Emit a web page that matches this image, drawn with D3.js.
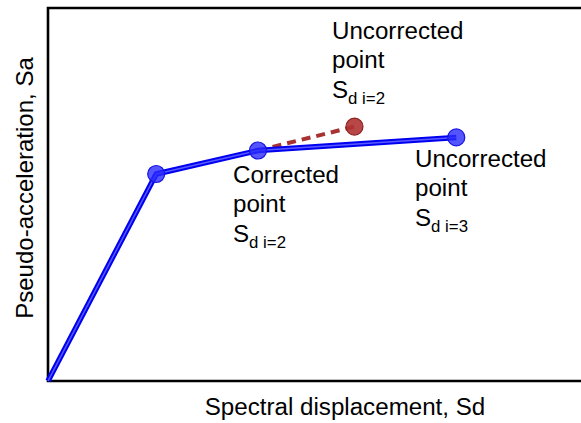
<!DOCTYPE html>
<html>
<head>
<meta charset="utf-8">
<script src="https://cdn.jsdelivr.net/npm/d3@7"></script>
<style>
  body { margin: 0; background: #fff; }
  text { font-family: "Liberation Sans", Arial, sans-serif; fill: #000; }
</style>
</head>
<body>
<div class="graph"></div>
<script>
const w = 581;
const h = 423;
const margin = {top: 8, right: 0, bottom: 42, left: 48};

// capacity curve (Sd, Sa), arbitrary units
const curveSd = [0, 2.03, 3.94, 7.66];
const curveSa = [0, 5.55, 6.18, 6.53];
// uncorrected trial point
const trialSd = [3.94, 5.75];
const trialSa = [6.18, 6.82];

const xTitle = "Spectral displacement, Sd";
const yTitle = "Pseudo-acceleration, Sa";
const noteLines = [
  {lines: ["Uncorrected", "point"], sub: "d i=2", x: 332, y: 39},
  {lines: ["Corrected", "point"], sub: "d i=2", x: 233, y: 183},
  {lines: ["Uncorrected", "point"], sub: "d i=3", x: 415, y: 167}
];

const canvas = d3.select(".graph")
  .append("svg")
  .attr("width", w)
  .attr("height", h);

const xScale = d3.scaleLinear()
  .domain([0, 10])
  .range([margin.left, w - margin.right]);
const yScale = d3.scaleLinear()
  .domain([0, 10])
  .range([h - margin.bottom, margin.top]);

// frame
canvas.append("path")
  .attr("d", `M${w + 5},${margin.top} H${margin.left} V${h - margin.bottom} H${w + 5}`)
  .attr("fill", "none")
  .attr("stroke", "#000")
  .attr("stroke-width", 2.6);

const curve = curveSd.map((d, i) => [d, curveSa[i]]);
const trial = trialSd.map((d, i) => [d, trialSa[i]]);
const line = d3.line().x(d => xScale(d[0])).y(d => yScale(d[1]));

// red dashed trial segment
canvas.append("path")
  .attr("d", line(trial))
  .attr("fill", "none")
  .attr("stroke", "#a83232")
  .attr("stroke-width", 4)
  .attr("stroke-dasharray", "9,6");

// blue capacity curve (double-edged look)
canvas.append("path")
  .attr("d", line(curve))
  .attr("fill", "none")
  .attr("stroke", "#0000f0")
  .attr("stroke-width", 5.5)
  .attr("stroke-linejoin", "round");
canvas.append("path")
  .attr("d", line(curve))
  .attr("fill", "none")
  .attr("stroke", "#5a5aff")
  .attr("stroke-width", 1.5)
  .attr("stroke-linejoin", "round");

// markers
canvas.selectAll("circle.pt")
  .data(curve.slice(1))
  .enter().append("circle")
  .attr("class", "pt")
  .attr("cx", d => xScale(d[0]))
  .attr("cy", d => yScale(d[1]))
  .attr("r", 8.5)
  .attr("fill", "#2a2aff")
  .attr("fill-opacity", 0.8)
  .attr("stroke", "#1515e0")
  .attr("stroke-width", 1.2);

canvas.append("circle")
  .attr("cx", xScale(trial[1][0]))
  .attr("cy", yScale(trial[1][1]))
  .attr("r", 8.5)
  .attr("fill", "#b03333")
  .attr("fill-opacity", 0.9)
  .attr("stroke", "#8f1f1f")
  .attr("stroke-width", 1.2);

// annotations
const lineGap = 29.3;
noteLines.forEach(n => {
  const g = canvas.append("g")
    .attr("transform", `translate(${n.x},${n.y}) scale(1.05,1)`);
  n.lines.forEach((t, i) => {
    g.append("text")
      .attr("x", 0)
      .attr("y", i * lineGap)
      .attr("font-size", 23)
      .text(t);
  });
  const s = g.append("text")
    .attr("x", 0)
    .attr("y", n.lines.length * lineGap)
    .attr("font-size", 23);
  s.append("tspan").text("S");
  s.append("tspan")
    .attr("font-size", 16)
    .attr("dy", 6)
    .text(n.sub);
});

// axis titles
canvas.append("text")
  .attr("transform", "translate(345,415) scale(1.05,1)")
  .attr("text-anchor", "middle")
  .attr("font-size", 23)
  .text(xTitle);

canvas.append("text")
  .attr("transform", "translate(33,188) rotate(-90)")
  .attr("text-anchor", "middle")
  .attr("font-size", 24)
  .text(yTitle);
</script>
</body>
</html>
